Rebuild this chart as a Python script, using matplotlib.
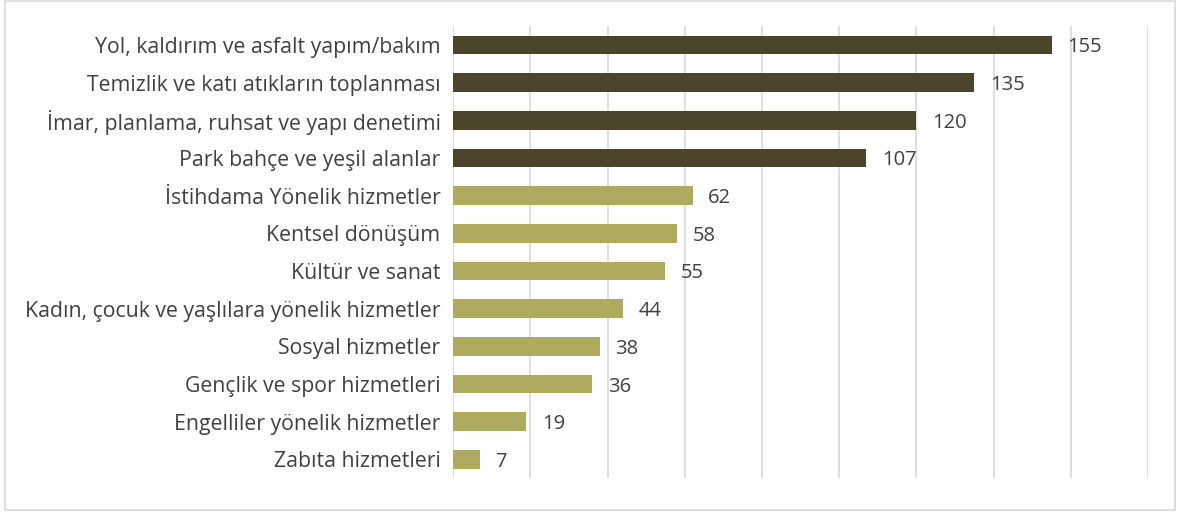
import matplotlib.pyplot as plt
from matplotlib.patches import Rectangle

# Kategoriler ve değerler (yukarıdan aşağıya)
kategoriler = [
    "Yol, kaldırım ve asfalt yapım/bakım",
    "Temizlik ve katı atıkların toplanması",
    "İmar, planlama, ruhsat ve yapı denetimi",
    "Park bahçe ve yeşil alanlar",
    "İstihdama Yönelik hizmetler",
    "Kentsel dönüşüm",
    "Kültür ve sanat",
    "Kadın, çocuk ve yaşlılara yönelik hizmetler",
    "Sosyal hizmetler",
    "Gençlik ve spor hizmetleri",
    "Engelliler yönelik hizmetler",
    "Zabıta hizmetleri",
]
degerler = [155, 135, 120, 107, 62, 58, 55, 44, 38, 36, 19, 7]
koyu_sayisi = 4  # ilk dört çubuk koyu renk

koyu = "#4B452C"
acik = "#AFAB5E"
yazi = "#404040"

plt.rcParams['font.family'] = ['Open Sans', 'DejaVu Sans']

fig = plt.figure(figsize=(11.8, 5.12), dpi=100)
ax = fig.add_axes([0.384, 0.066, 0.589, 0.883])

# dış çerçeve
fig.patches.append(Rectangle((0.004, 0.004), 0.992, 0.994, transform=fig.transFigure,
                             fill=False, edgecolor="#D9D9D9", linewidth=1.2))

y = list(range(len(kategoriler)))
renkler = [koyu if i < koyu_sayisi else acik for i in y]
ax.barh(y, degerler, height=0.5, color=renkler, zorder=3)

for i, v in enumerate(degerler):
    ax.text(v + 4, i, str(v), va="center_baseline", ha="left", fontsize=14.5, color=yazi)

ax.set_yticks(y)
ax.set_yticklabels(kategoriler, fontsize=15.3, color=yazi)
ax.invert_yaxis()
ax.set_ylim(len(kategoriler) - 0.5, -0.5)

ax.set_xlim(0, 180)
ax.set_xticks(range(0, 181, 20))
ax.tick_params(axis="x", length=0, labelbottom=False)
ax.tick_params(axis="y", length=0, pad=9)
ax.grid(axis="x", color="#D9D9D9", linewidth=1.2, zorder=0)

for s in ax.spines.values():
    s.set_visible(False)

fig.savefig("out.png", dpi=100)
